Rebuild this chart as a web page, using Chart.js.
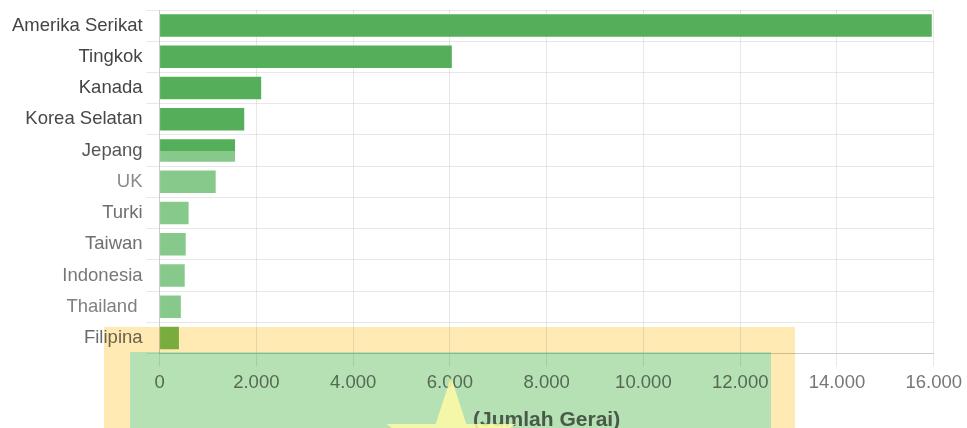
<!DOCTYPE html>
<html>
<head>
<meta charset="utf-8">
<script src="https://cdn.jsdelivr.net/npm/chart.js@4/dist/chart.umd.min.js"></script>
<style>
  html, body { margin: 0; padding: 0; background: #fff; }
  #wrap { width: 967px; height: 428px; position: relative; }
</style>
</head>
<body>
<div id="wrap"><canvas id="barChart"></canvas></div>
<script>
const countries = ["Amerika Serikat", "Tingkok", "Kanada", "Korea Selatan", "Jepang", "UK",
  "Turki", "Taiwan", "Indonesia", "Thailand ", "Filipina"];
const stores = [15960, 6040, 2100, 1750, 1560, 1160, 600, 540, 520, 440, 400];
const xTicks = [0, 2000, 4000, 6000, 8000, 10000, 12000, 14000, 16000];

const dark = "#55ae59";
const light = "#86c98a";
const barColors = [dark, dark, dark, dark, dark, light, light, light, light, light, "#78ac3c"];
const labelColors = ["#444", "#444", "#444", "#484848", "#555", "#8a8a8a", "#6f6f6f", "#6f6f6f", "#777", "#808080", "#6a6a6a"];

function fmt(v) {
  return String(v).replace(/\B(?=(\d{3})+(?!\d))/g, ".");
}

// highlight boxes and star sitting over the lower part of the picture
const overlay = {
  id: "overlay",
  beforeDatasetsDraw(chart) {
    const c = chart.ctx;
    c.save();
    c.globalCompositeOperation = "multiply";
    c.fillStyle = "rgb(255,234,180)";
    c.fillRect(104, 327, 691, 101);
    c.fillStyle = "rgb(181,246,255)";
    c.fillRect(130, 352, 641, 76);
    c.globalCompositeOperation = "source-over";
    // star
    const cx = 451, cy = 445, R = 68, r = 26;
    c.beginPath();
    for (let i = 0; i < 10; i++) {
      const a = -Math.PI / 2 + i * Math.PI / 5;
      const rr = i % 2 === 0 ? R : r;
      const px = cx + rr * Math.cos(a), py = cy + rr * Math.sin(a);
      if (i === 0) c.moveTo(px, py); else c.lineTo(px, py);
    }
    c.closePath();
    c.fillStyle = "rgba(255,250,165,0.85)";
    c.fill();
    c.restore();
  }
};

function barColor(ctx) {
  const i = ctx.dataIndex;
  if (i !== 4) return barColors[i];
  const y = ctx.chart.scales.y;
  if (!y) return dark;
  const mid = y.getPixelForValue(i);
  const h = (y.height / countries.length) * 0.72;
  if (!isFinite(mid) || !isFinite(h) || h <= 0) return dark;
  const g = ctx.chart.ctx.createLinearGradient(0, mid - h / 2, 0, mid + h / 2);
  g.addColorStop(0, dark);
  g.addColorStop(0.5, dark);
  g.addColorStop(0.5, light);
  g.addColorStop(1, light);
  return g;
}

new Chart(document.getElementById("barChart").getContext("2d"), {
  type: "bar",
  data: {
    labels: countries,
    datasets: [{
      label: "Jumlah Gerai",
      data: stores,
      backgroundColor: barColor,
      borderWidth: 0,
    }],
  },
  plugins: [overlay],
  options: {
    indexAxis: "y",
    responsive: true,
    maintainAspectRatio: false,
    animation: false,
    layout: { padding: { left: 8, top: 10, right: 32, bottom: -5 } },
    plugins: {
      legend: { display: false },
      tooltip: { enabled: false },
    },
    scales: {
      x: {
        min: 0,
        max: 16000,
        afterBuildTicks(axis) { axis.ticks = xTicks.map(v => ({ value: v })); },
        grid: { color: "rgba(0,0,0,0.09)", tickLength: 13 },
        border: { color: "rgba(0,0,0,0.12)" },
        ticks: {
          color: "#777",
          padding: 5,
          maxRotation: 0,
          autoSkip: false,
          font: { family: "'Liberation Sans', Arial, sans-serif", size: 18.5 },
          callback: v => fmt(v),
        },
        title: {
          display: true,
          text: "(Jumlah Gerai)",
          color: "#666",
          padding: { top: 9, bottom: 0 },
          font: { family: "'Liberation Sans', Arial, sans-serif", size: 21, weight: "bold" },
        },
      },
      y: {
        afterFit(axis) { axis.paddingTop = 0; axis.paddingBottom = 0; },
        grid: { color: "rgba(0,0,0,0.09)", tickLength: 13 },
        border: { color: "rgba(0,0,0,0.12)" },
        ticks: {
          padding: 4,
          color: ctx => labelColors[ctx.index],
          font: { family: "'Liberation Sans', Arial, sans-serif", size: 18.5 },
        },
      },
    },
  },
});
</script>
</body>
</html>
